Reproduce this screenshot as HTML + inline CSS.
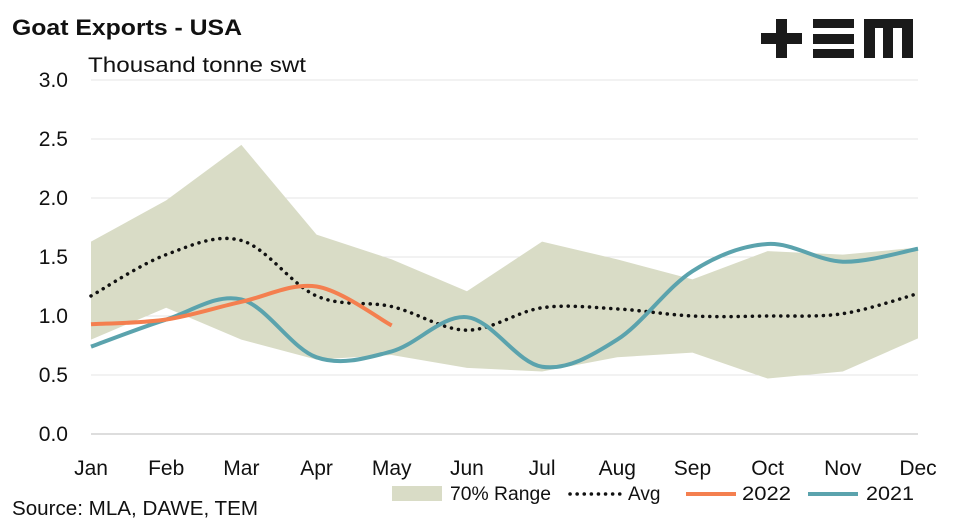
<!DOCTYPE html>
<html><head><meta charset="utf-8"><style>
body{margin:0;background:#fff;font-family:"Liberation Sans",sans-serif}
svg text{font-family:"Liberation Sans",sans-serif;fill:#111}
</style></head><body>
<svg id="c" width="954" height="527">
<text x="12" y="35" font-size="22" font-weight="bold" textLength="230" lengthAdjust="spacingAndGlyphs">Goat Exports - USA</text>
<text x="88" y="72" font-size="21" textLength="218" lengthAdjust="spacingAndGlyphs">Thousand tonne swt</text>
<g fill="#1a1a1a">
<rect x="761" y="33" width="41" height="11"/><rect x="776" y="19" width="11" height="39"/>
<rect x="813" y="19" width="41" height="9"/><rect x="813" y="34" width="41" height="10"/><rect x="813" y="49" width="41" height="9"/>
<rect x="864" y="19" width="49" height="9"/><rect x="864" y="19" width="11" height="39"/><rect x="883" y="19" width="10" height="39"/><rect x="902" y="19" width="11" height="39"/>
</g>
<g id="grid"></g><g id="marks"></g><g id="axes"></g>
<text x="12" y="515" font-size="20" textLength="246" lengthAdjust="spacingAndGlyphs">Source: MLA, DAWE, TEM</text>
<g>
<rect x="392" y="486" width="50" height="15" fill="#d9dcc6"/>
<text x="450" y="500" font-size="19" textLength="101" lengthAdjust="spacingAndGlyphs">70% Range</text>
<line x1="570" y1="494" x2="620" y2="494" stroke="#111" stroke-width="3.5" stroke-dasharray="0.1 7" stroke-linecap="round"/>
<text x="628" y="500" font-size="19">Avg</text>
<line x1="686" y1="494" x2="736" y2="494" stroke="#f47f4f" stroke-width="4"/>
<text x="742" y="500" font-size="19" textLength="49" lengthAdjust="spacingAndGlyphs">2022</text>
<line x1="808" y1="494" x2="858" y2="494" stroke="#5ba3ad" stroke-width="4"/>
<text x="866" y="500" font-size="19" textLength="48" lengthAdjust="spacingAndGlyphs">2021</text>
</g>
</svg>
<script>
const months=["Jan","Feb","Mar","Apr","May","Jun","Jul","Aug","Sep","Oct","Nov","Dec"];
const yTicks=[0,0.5,1,1.5,2,2.5,3];
const rangeHigh=[1.63,1.98,2.45,1.69,1.48,1.21,1.63,1.48,1.31,1.55,1.52,1.58];
const rangeLow=[0.80,1.07,0.80,0.63,0.67,0.56,0.53,0.65,0.69,0.47,0.53,0.81];
const avg=[1.17,1.52,1.64,1.17,1.08,0.88,1.07,1.06,1.00,1.00,1.02,1.19];
const s2022=[0.93,0.97,1.12,1.25,0.92];
const s2021=[0.74,0.97,1.14,0.65,0.70,0.99,0.57,0.80,1.38,1.61,1.46,1.57];
const NS="http://www.w3.org/2000/svg";
const x=i=>91+i*(918-91)/11, y=v=>434-v*118;
function mk(t,a,p){const e=document.createElementNS(NS,t);for(const k in a)e.setAttribute(k,a[k]);p.appendChild(e);return e;}
const grid=document.getElementById('grid'),marks=document.getElementById('marks'),axes=document.getElementById('axes');
yTicks.forEach(v=>{
 const l=mk('line',{x1:91,x2:918,y1:y(v),y2:y(v),stroke:v===0?'#bbb':'#e4e4e4','stroke-width':1},grid);
 
 
 const t=mk('text',{x:68,y:y(v)+7,'font-size':21,'text-anchor':'end'},axes);t.textContent=v.toFixed(1);
 
 
});
months.forEach((m,i)=>{const t=mk('text',{x:x(i),y:475,'font-size':21,'text-anchor':'middle'},axes);t.textContent=m;
 
 });
const poly=rangeHigh.map((v,i)=>x(i)+','+y(v)).concat(rangeLow.map((v,i)=>x(i)+','+y(v)).reverse()).join(' ');
const band=mk('polygon',{points:poly,fill:'#d9dcc6'},marks);


function smooth(d){const p=d.map((v,i)=>[x(i),y(v)]);let s='M'+p[0];
 for(let i=0;i<p.length-1;i++){const p0=p[i-1]||p[i],p1=p[i],p2=p[i+1],p3=p[i+2]||p2;
  const c1=[p1[0]+(p2[0]-p0[0])/6,p1[1]+(p2[1]-p0[1])/6],c2=[p2[0]-(p3[0]-p1[0])/6,p2[1]-(p3[1]-p1[1])/6];
  s+=' C'+c1+' '+c2+' '+p2;}return s;}
const a=mk('path',{d:smooth(avg),fill:'none',stroke:'#111','stroke-width':3.5,'stroke-dasharray':'0.1 7','stroke-linecap':'round'},marks);


const l21=mk('path',{d:smooth(s2021),fill:'none',stroke:'#5ba3ad','stroke-width':4},marks);


const l22=mk('path',{d:smooth(s2022),fill:'none',stroke:'#f47f4f','stroke-width':4},marks);


</script>
</body></html>
